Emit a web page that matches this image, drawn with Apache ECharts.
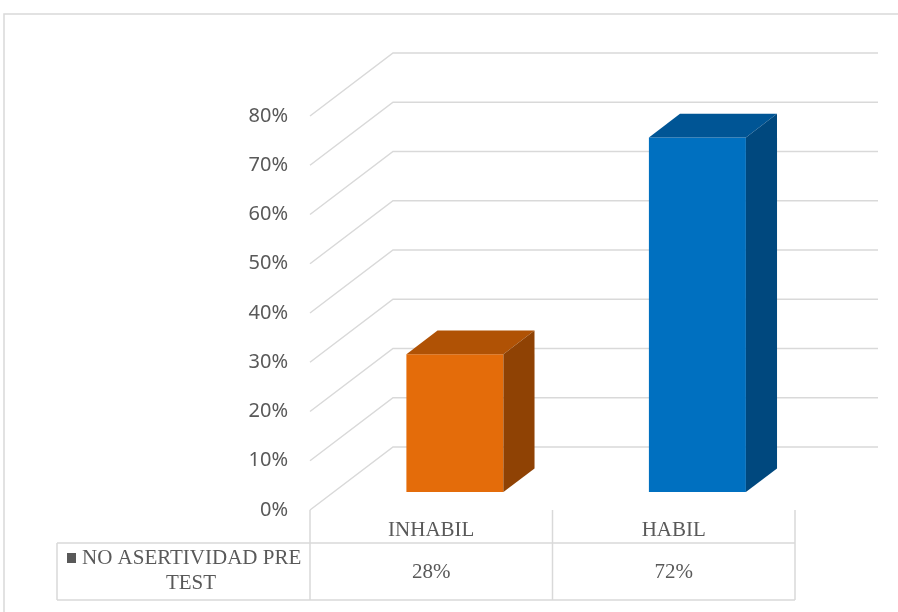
<!DOCTYPE html>
<html>
<head>
<meta charset="utf-8">
<script src="https://cdn.jsdelivr.net/npm/echarts@6/dist/echarts.min.js"></script>
<style>html,body{margin:0;padding:0;background:#fff;}#c{width:898px;height:612px;}</style>
</head>
<body>
<div id="c"></div>
<script>
const categories = ['INHABIL', 'HABIL'];
const values = [28, 72];
const valueLabels = ['28%', '72%'];
const tickValues = [0, 10, 20, 30, 40, 50, 60, 70, 80];
const legendLines = ['NO ASERTIVIDAD PRE', 'TEST'];

const DX = 83, DY = -63;          // depth projection of the 3D walls
const F = 0.285, B = 0.66;        // bar front / back depth fractions
const frontCol = ['#E46C0A', '#0070C0'];
const topCol = ['#B05205', '#005595'];
const sideCol = ['#8F4204', '#00487E'];
const GRID = '#D9D9D9';
const SERIF = 'Liberation Serif';

const chart = echarts.init(document.getElementById('c'), null, {renderer: 'canvas'});

const option = {
  animation: false,
  grid: {left: 310, right: 103, top: 116, bottom: 102, containLabel: false},
  xAxis: {
    type: 'category', data: categories,
    axisLine: {show: false}, axisTick: {show: false}, splitLine: {show: false},
    axisLabel: {color: '#595959', fontFamily: SERIF, fontSize: 21, margin: 10}
  },
  yAxis: {
    type: 'value', min: 0, max: 80, interval: 10,
    axisLine: {show: false}, axisTick: {show: false}, splitLine: {show: false},
    axisLabel: {formatter: '{value}%', color: '#595959', fontFamily: 'Noto Sans', fontSize: 20, margin: 22, padding: [6, 0, 0, 0]}
  },
  series: [
    {
      type: 'custom', name: 'walls', z: 1, silent: true,
      data: tickValues.map(v => [0, v]),
      renderItem: function (params, api) {
        const cs = params.coordSys;
        const y = api.coord([0, api.value(1)])[1];
        const x0 = cs.x, x1 = cs.x + cs.width;
        return {
          type: 'polyline',
          shape: {points: [[x0, y], [x0 + DX, y + DY], [x1 + DX, y + DY]]},
          style: {stroke: GRID, lineWidth: 1.5, fill: null}
        };
      }
    },
    {
      type: 'custom', name: legendLines.join(' '), z: 3,
      data: values.map((v, i) => [i, v]),
      renderItem: function (params, api) {
        const i = api.value(0), v = api.value(1);
        const base = api.coord([i, 0]);
        const top = api.coord([i, v]);
        const band = api.size([1, 0])[0];
        const w = band * 0.4;
        const xL = base[0] - w / 2 + DX * F, xR = xL + w;
        const yB = base[1] + DY * F, yT = top[1] + DY * F;
        const ox = DX * (B - F), oy = DY * (B - F);
        const k = params.dataIndex;
        return {
          type: 'group',
          children: [
            {type: 'rect', shape: {x: xL, y: yT, width: w, height: yB - yT}, style: {fill: frontCol[k]}},
            {type: 'polygon', shape: {points: [[xL, yT], [xL + ox, yT + oy], [xR + ox, yT + oy], [xR, yT]]}, style: {fill: topCol[k]}},
            {type: 'polygon', shape: {points: [[xR, yT], [xR + ox, yT + oy], [xR + ox, yB + oy], [xR, yB]]}, style: {fill: sideCol[k]}}
          ]
        };
      }
    },
    {
      type: 'custom', name: 'tableValues', z: 4, silent: true,
      data: values.map((v, i) => [i, v]),
      renderItem: function (params, api) {
        const i = api.value(0);
        const p = api.coord([i, 0]);
        return {
          type: 'text',
          style: {text: valueLabels[params.dataIndex], x: p[0], y: p[1] + 62, align: 'center', verticalAlign: 'middle',
                  fill: '#595959', fontFamily: SERIF, fontSize: 21}
        };
      }
    }
  ],
  graphic: [
    {type: 'rect', shape: {x: 4, y: 14, width: 1000, height: 1000}, style: {fill: null, stroke: GRID, lineWidth: 1.5}, silent: true, z: 0},
    // table lines
    {type: 'line', shape: {x1: 310, y1: 510, x2: 310, y2: 600}, style: {stroke: GRID, lineWidth: 1.5}},
    {type: 'line', shape: {x1: 552.5, y1: 510, x2: 552.5, y2: 600}, style: {stroke: GRID, lineWidth: 1.5}},
    {type: 'line', shape: {x1: 795, y1: 510, x2: 795, y2: 600}, style: {stroke: GRID, lineWidth: 1.5}},
    {type: 'line', shape: {x1: 57, y1: 543, x2: 795, y2: 543}, style: {stroke: GRID, lineWidth: 1.5}},
    {type: 'line', shape: {x1: 57, y1: 600, x2: 795, y2: 600}, style: {stroke: GRID, lineWidth: 1.5}},
    {type: 'line', shape: {x1: 57, y1: 543, x2: 57, y2: 600}, style: {stroke: GRID, lineWidth: 1.5}},
    // legend key
    {type: 'rect', shape: {x: 67, y: 553, width: 9, height: 10}, style: {fill: '#595959'}},
    {type: 'text', style: {text: legendLines[0], x: 82, y: 558, align: 'left', verticalAlign: 'middle', fill: '#595959', fontFamily: SERIF, fontSize: 21}},
    {type: 'text', style: {text: legendLines[1], x: 191, y: 583, align: 'center', verticalAlign: 'middle', fill: '#595959', fontFamily: SERIF, fontSize: 21}}
  ]
};
chart.setOption(option);
</script>
</body>
</html>
